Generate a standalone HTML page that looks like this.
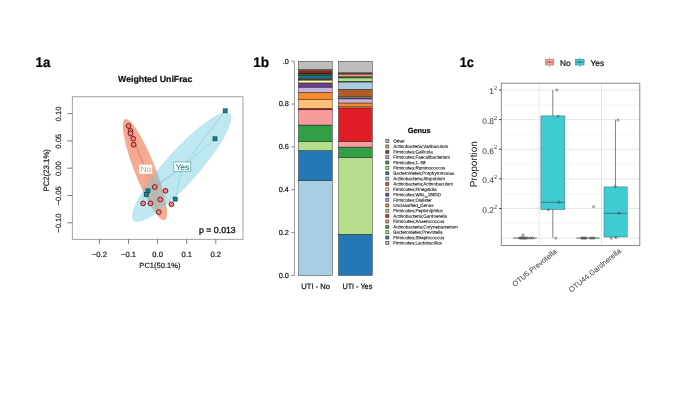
<!DOCTYPE html>
<html><head><meta charset="utf-8"><title>Figure 1</title>
<style>
html,body{margin:0;padding:0;background:#fff;}
body{width:685px;height:401px;overflow:hidden;}
svg{display:block;}
text{font-family:"Liberation Sans", sans-serif;text-rendering:geometricPrecision;}
</style></head><body>
<svg width="685" height="401" viewBox="0 0 685 401">
<rect x="0" y="0" width="685" height="401" fill="#ffffff"/>

<defs><filter id="soft" x="0" y="0" width="685" height="401" filterUnits="userSpaceOnUse" color-interpolation-filters="sRGB"><feGaussianBlur stdDeviation="0.55"/></filter></defs>
<g filter="url(#soft)">
<rect x="-5" y="-5" width="695" height="411" fill="#ffffff"/>
<text x="35.5" y="67.0" font-size="14" font-weight="bold" fill="#000" textLength="14.8" lengthAdjust="spacingAndGlyphs" stroke="#000" stroke-width="0.22">1a</text>
<text x="253.3" y="66.9" font-size="14" font-weight="bold" fill="#000" textLength="15.9" lengthAdjust="spacingAndGlyphs" stroke="#000" stroke-width="0.22">1b</text>
<text x="459.7" y="66.9" font-size="14" font-weight="bold" fill="#000" textLength="14.2" lengthAdjust="spacingAndGlyphs" stroke="#000" stroke-width="0.22">1c</text>
<g id="p1a">
<text x="155.2" y="82.4" font-size="8.75" font-weight="bold" fill="#111" text-anchor="middle" stroke="#111" stroke-width="0.22">Weighted UniFrac</text>
<clipPath id="c1a"><rect x="72.3" y="96.8" width="170.7" height="142.5"/></clipPath>
<g clip-path="url(#c1a)">
<ellipse cx="144.9" cy="169.6" rx="54.3" ry="10.4" transform="rotate(68.5 144.9 169.6)" fill="#f0855f" fill-opacity="0.69"/>
<ellipse cx="181.7" cy="167.1" rx="72.0" ry="16.6" transform="rotate(-48.2 181.7 167.1)" fill="#72cfe0" fill-opacity="0.47"/>
<line x1="145.7" y1="169.2" x2="128.5" y2="125.7" stroke="#d56a50" stroke-width="0.45" stroke-opacity="0.4"/>
<line x1="145.7" y1="169.2" x2="130.5" y2="130.7" stroke="#d56a50" stroke-width="0.45" stroke-opacity="0.4"/>
<line x1="145.7" y1="169.2" x2="130.5" y2="133.2" stroke="#d56a50" stroke-width="0.45" stroke-opacity="0.4"/>
<line x1="145.7" y1="169.2" x2="133.2" y2="138.4" stroke="#d56a50" stroke-width="0.45" stroke-opacity="0.4"/>
<line x1="145.7" y1="169.2" x2="133.6" y2="144.4" stroke="#d56a50" stroke-width="0.45" stroke-opacity="0.4"/>
<line x1="145.7" y1="169.2" x2="154.8" y2="186.7" stroke="#d56a50" stroke-width="0.45" stroke-opacity="0.4"/>
<line x1="145.7" y1="169.2" x2="165.5" y2="190.5" stroke="#d56a50" stroke-width="0.45" stroke-opacity="0.4"/>
<line x1="145.7" y1="169.2" x2="160.2" y2="199.2" stroke="#d56a50" stroke-width="0.45" stroke-opacity="0.4"/>
<line x1="145.7" y1="169.2" x2="143.1" y2="203.1" stroke="#d56a50" stroke-width="0.45" stroke-opacity="0.4"/>
<line x1="145.7" y1="169.2" x2="150.5" y2="203.1" stroke="#d56a50" stroke-width="0.45" stroke-opacity="0.4"/>
<line x1="145.7" y1="169.2" x2="171.4" y2="204.0" stroke="#d56a50" stroke-width="0.45" stroke-opacity="0.4"/>
<line x1="145.7" y1="169.2" x2="158.8" y2="211.8" stroke="#d56a50" stroke-width="0.45" stroke-opacity="0.4"/>
<line x1="182.3" y1="166.8" x2="225.2" y2="110.8" stroke="#45a8b2" stroke-width="0.45" stroke-opacity="0.6"/>
<line x1="182.3" y1="166.8" x2="215.0" y2="138.8" stroke="#45a8b2" stroke-width="0.45" stroke-opacity="0.6"/>
<line x1="182.3" y1="166.8" x2="147.9" y2="190.9" stroke="#45a8b2" stroke-width="0.45" stroke-opacity="0.6"/>
<line x1="182.3" y1="166.8" x2="146.3" y2="194.4" stroke="#45a8b2" stroke-width="0.45" stroke-opacity="0.6"/>
<line x1="182.3" y1="166.8" x2="175.2" y2="199.1" stroke="#45a8b2" stroke-width="0.45" stroke-opacity="0.6"/>
<circle cx="128.5" cy="126.0" r="2.4" fill="#f5827e" stroke="#6a1c1c" stroke-width="0.95"/>
<circle cx="130.5" cy="131.0" r="2.4" fill="#f5827e" stroke="#6a1c1c" stroke-width="0.95"/>
<circle cx="130.5" cy="133.5" r="2.4" fill="#f5827e" stroke="#6a1c1c" stroke-width="0.95"/>
<circle cx="133.2" cy="138.70000000000002" r="2.4" fill="#f5827e" stroke="#6a1c1c" stroke-width="0.95"/>
<circle cx="133.6" cy="144.70000000000002" r="2.4" fill="#f5827e" stroke="#6a1c1c" stroke-width="0.95"/>
<circle cx="154.8" cy="187.0" r="2.4" fill="#f5827e" stroke="#6a1c1c" stroke-width="0.95"/>
<circle cx="165.5" cy="190.8" r="2.4" fill="#f5827e" stroke="#6a1c1c" stroke-width="0.95"/>
<circle cx="160.2" cy="199.5" r="2.4" fill="#f5827e" stroke="#6a1c1c" stroke-width="0.95"/>
<circle cx="143.1" cy="203.4" r="2.4" fill="#f5827e" stroke="#6a1c1c" stroke-width="0.95"/>
<circle cx="150.5" cy="203.4" r="2.4" fill="#f5827e" stroke="#6a1c1c" stroke-width="0.95"/>
<circle cx="171.4" cy="204.3" r="2.4" fill="#f5827e" stroke="#6a1c1c" stroke-width="0.95"/>
<circle cx="158.8" cy="212.10000000000002" r="2.4" fill="#f5827e" stroke="#6a1c1c" stroke-width="0.95"/>
<rect x="223.2" y="108.8" width="4.0" height="4.0" fill="#1c7f8a" stroke="#0d4a52" stroke-width="0.7"/>
<rect x="213.0" y="136.8" width="4.0" height="4.0" fill="#1c7f8a" stroke="#0d4a52" stroke-width="0.7"/>
<rect x="145.9" y="188.9" width="4.0" height="4.0" fill="#1c7f8a" stroke="#0d4a52" stroke-width="0.7"/>
<rect x="144.3" y="192.4" width="4.0" height="4.0" fill="#1c7f8a" stroke="#0d4a52" stroke-width="0.7"/>
<rect x="173.2" y="197.1" width="4.0" height="4.0" fill="#1c7f8a" stroke="#0d4a52" stroke-width="0.7"/>
</g>
<rect x="139.0" y="164.4" width="13.4" height="9.6" fill="#fff" stroke="#f0b0a2" stroke-width="0.6"/>
<text x="145.9" y="172.2" font-size="8.4" fill="#e88e82" stroke="none" text-anchor="middle">No</text>
<rect x="173.8" y="162.0" width="17.0" height="9.6" fill="#fff" stroke="#4a9fa9" stroke-width="0.65"/>
<text x="182.4" y="169.9" font-size="8.5" fill="#22838e" stroke="#22838e" stroke-width="0.12" text-anchor="middle">Yes</text>
<text x="199.1" y="233.2" font-size="8.7" fill="#151515" stroke="#151515" stroke-width="0.36" textLength="36.6" lengthAdjust="spacingAndGlyphs">p = 0.013</text>
<rect x="72.3" y="96.8" width="170.7" height="142.5" fill="none" stroke="#8a8a8a" stroke-width="0.8"/>
<line x1="99.40" y1="239.3" x2="99.40" y2="243.9" stroke="#444" stroke-width="0.7"/>
<text x="99.40" y="256.6" font-size="7.6" fill="#1a1a1a" stroke="#1a1a1a" stroke-width="0.2" text-anchor="middle">−0.2</text>
<line x1="128.50" y1="239.3" x2="128.50" y2="243.9" stroke="#444" stroke-width="0.7"/>
<text x="128.50" y="256.6" font-size="7.6" fill="#1a1a1a" stroke="#1a1a1a" stroke-width="0.2" text-anchor="middle">−0.1</text>
<line x1="157.60" y1="239.3" x2="157.60" y2="243.9" stroke="#444" stroke-width="0.7"/>
<text x="157.60" y="256.6" font-size="7.6" fill="#1a1a1a" stroke="#1a1a1a" stroke-width="0.2" text-anchor="middle">0.0</text>
<line x1="186.70" y1="239.3" x2="186.70" y2="243.9" stroke="#444" stroke-width="0.7"/>
<text x="186.70" y="256.6" font-size="7.6" fill="#1a1a1a" stroke="#1a1a1a" stroke-width="0.2" text-anchor="middle">0.1</text>
<line x1="215.80" y1="239.3" x2="215.80" y2="243.9" stroke="#444" stroke-width="0.7"/>
<text x="215.80" y="256.6" font-size="7.6" fill="#1a1a1a" stroke="#1a1a1a" stroke-width="0.2" text-anchor="middle">0.2</text>
<text x="159.9" y="268.4" font-size="7.55" fill="#1a1a1a" stroke="#1a1a1a" stroke-width="0.2" text-anchor="middle">PC1(50.1%)</text>
<line x1="67.3" y1="113.60" x2="72.3" y2="113.60" stroke="#444" stroke-width="0.7"/>
<text transform="translate(60.9 114.00) rotate(-90)" font-size="7.6" fill="#1a1a1a" stroke="#1a1a1a" stroke-width="0.2" text-anchor="middle">0.10</text>
<line x1="67.3" y1="140.90" x2="72.3" y2="140.90" stroke="#444" stroke-width="0.7"/>
<text transform="translate(60.9 141.30) rotate(-90)" font-size="7.6" fill="#1a1a1a" stroke="#1a1a1a" stroke-width="0.2" text-anchor="middle">0.05</text>
<line x1="67.3" y1="168.20" x2="72.3" y2="168.20" stroke="#444" stroke-width="0.7"/>
<text transform="translate(60.9 168.60) rotate(-90)" font-size="7.6" fill="#1a1a1a" stroke="#1a1a1a" stroke-width="0.2" text-anchor="middle">0.00</text>
<line x1="67.3" y1="195.50" x2="72.3" y2="195.50" stroke="#444" stroke-width="0.7"/>
<text transform="translate(60.9 195.90) rotate(-90)" font-size="7.6" fill="#1a1a1a" stroke="#1a1a1a" stroke-width="0.2" text-anchor="middle">−0.05</text>
<line x1="67.3" y1="222.80" x2="72.3" y2="222.80" stroke="#444" stroke-width="0.7"/>
<text transform="translate(60.9 223.20) rotate(-90)" font-size="7.6" fill="#1a1a1a" stroke="#1a1a1a" stroke-width="0.2" text-anchor="middle">−0.10</text>
<text transform="translate(48.9 170.3) rotate(-90)" font-size="7.8" fill="#1a1a1a" stroke="#1a1a1a" stroke-width="0.2" text-anchor="middle">PC2(23.1%)</text>
</g>
<g id="p1b">
<rect x="298.5" y="180.30" width="33.80000000000001" height="95.10" fill="#a8cee3" stroke="#111" stroke-width="0.42"/>
<rect x="298.5" y="150.52" width="33.80000000000001" height="29.77" fill="#2478b5" stroke="#111" stroke-width="0.42"/>
<rect x="298.5" y="141.74" width="33.80000000000001" height="8.78" fill="#b5dd8c" stroke="#111" stroke-width="0.42"/>
<rect x="298.5" y="125.03" width="33.80000000000001" height="16.71" fill="#309f47" stroke="#111" stroke-width="0.42"/>
<rect x="298.5" y="109.82" width="33.80000000000001" height="15.21" fill="#f79c9b" stroke="#111" stroke-width="0.42"/>
<rect x="298.5" y="108.32" width="33.80000000000001" height="1.50" fill="#e01c26" stroke="#111" stroke-width="0.42"/>
<rect x="298.5" y="99.76" width="33.80000000000001" height="8.57" fill="#fcc077" stroke="#111" stroke-width="0.42"/>
<rect x="298.5" y="92.37" width="33.80000000000001" height="7.39" fill="#f58a2c" stroke="#111" stroke-width="0.42"/>
<rect x="298.5" y="87.12" width="33.80000000000001" height="5.25" fill="#cab2d6" stroke="#111" stroke-width="0.42"/>
<rect x="298.5" y="82.94" width="33.80000000000001" height="4.18" fill="#6a3f9b" stroke="#111" stroke-width="0.42"/>
<rect x="298.5" y="80.05" width="33.80000000000001" height="2.89" fill="#fbf79a" stroke="#111" stroke-width="0.42"/>
<rect x="298.5" y="79.19" width="33.80000000000001" height="0.86" fill="#b15a2a" stroke="#111" stroke-width="0.42"/>
<rect x="298.5" y="78.34" width="33.80000000000001" height="0.86" fill="#a8cee3" stroke="#111" stroke-width="0.42"/>
<rect x="298.5" y="75.77" width="33.80000000000001" height="2.57" fill="#1d6f94" stroke="#111" stroke-width="0.42"/>
<rect x="298.5" y="75.44" width="33.80000000000001" height="0.32" fill="#b5dd8c" stroke="#111" stroke-width="0.42"/>
<rect x="298.5" y="73.84" width="33.80000000000001" height="1.61" fill="#1d7a3a" stroke="#111" stroke-width="0.42"/>
<rect x="298.5" y="73.41" width="33.80000000000001" height="0.43" fill="#f79c9b" stroke="#111" stroke-width="0.42"/>
<rect x="298.5" y="70.52" width="33.80000000000001" height="2.89" fill="#96201e" stroke="#111" stroke-width="0.42"/>
<rect x="298.5" y="69.34" width="33.80000000000001" height="1.18" fill="#d9a86a" stroke="#111" stroke-width="0.42"/>
<rect x="298.5" y="61.20" width="33.80000000000001" height="8.14" fill="#bdbdbd" stroke="#111" stroke-width="0.42"/>
<rect x="338.5" y="234.27" width="33.80000000000001" height="41.13" fill="#2478b5" stroke="#111" stroke-width="0.42"/>
<rect x="338.5" y="157.38" width="33.80000000000001" height="76.90" fill="#b5dd8c" stroke="#111" stroke-width="0.42"/>
<rect x="338.5" y="147.09" width="33.80000000000001" height="10.28" fill="#309f47" stroke="#111" stroke-width="0.42"/>
<rect x="338.5" y="141.52" width="33.80000000000001" height="5.57" fill="#f79c9b" stroke="#111" stroke-width="0.42"/>
<rect x="338.5" y="107.90" width="33.80000000000001" height="33.63" fill="#e01c26" stroke="#111" stroke-width="0.42"/>
<rect x="338.5" y="106.82" width="33.80000000000001" height="1.07" fill="#fcc077" stroke="#111" stroke-width="0.42"/>
<rect x="338.5" y="102.97" width="33.80000000000001" height="3.86" fill="#f58a2c" stroke="#111" stroke-width="0.42"/>
<rect x="338.5" y="98.90" width="33.80000000000001" height="4.07" fill="#cab2d6" stroke="#111" stroke-width="0.42"/>
<rect x="338.5" y="97.61" width="33.80000000000001" height="1.29" fill="#6a3f9b" stroke="#111" stroke-width="0.42"/>
<rect x="338.5" y="96.33" width="33.80000000000001" height="1.29" fill="#fbf79a" stroke="#111" stroke-width="0.42"/>
<rect x="338.5" y="89.26" width="33.80000000000001" height="7.07" fill="#b15a2a" stroke="#111" stroke-width="0.42"/>
<rect x="338.5" y="81.98" width="33.80000000000001" height="7.28" fill="#a8cee3" stroke="#111" stroke-width="0.42"/>
<rect x="338.5" y="81.33" width="33.80000000000001" height="0.64" fill="#1d6f94" stroke="#111" stroke-width="0.42"/>
<rect x="338.5" y="77.91" width="33.80000000000001" height="3.43" fill="#b5dd8c" stroke="#111" stroke-width="0.42"/>
<rect x="338.5" y="76.62" width="33.80000000000001" height="1.29" fill="#1d7a3a" stroke="#111" stroke-width="0.42"/>
<rect x="338.5" y="74.05" width="33.80000000000001" height="2.57" fill="#f79c9b" stroke="#111" stroke-width="0.42"/>
<rect x="338.5" y="73.41" width="33.80000000000001" height="0.64" fill="#96201e" stroke="#111" stroke-width="0.42"/>
<rect x="338.5" y="72.77" width="33.80000000000001" height="0.64" fill="#d9a86a" stroke="#111" stroke-width="0.42"/>
<rect x="338.5" y="61.20" width="33.80000000000001" height="11.57" fill="#bdbdbd" stroke="#111" stroke-width="0.42"/>
<line x1="294.4" y1="275.4" x2="294.4" y2="61.19999999999999" stroke="#707070" stroke-width="0.7"/>
<line x1="291.2" y1="275.40" x2="294.4" y2="275.40" stroke="#606060" stroke-width="0.7"/>
<text x="288.9" y="277.80" font-size="7.3" fill="#222" text-anchor="end" stroke="#222" stroke-width="0.22">0.0</text>
<line x1="291.2" y1="232.56" x2="294.4" y2="232.56" stroke="#606060" stroke-width="0.7"/>
<text x="288.9" y="234.96" font-size="7.3" fill="#222" text-anchor="end" stroke="#222" stroke-width="0.22">0.2</text>
<line x1="291.2" y1="189.72" x2="294.4" y2="189.72" stroke="#606060" stroke-width="0.7"/>
<text x="288.9" y="192.12" font-size="7.3" fill="#222" text-anchor="end" stroke="#222" stroke-width="0.22">0.4</text>
<line x1="291.2" y1="146.88" x2="294.4" y2="146.88" stroke="#606060" stroke-width="0.7"/>
<text x="288.9" y="149.28" font-size="7.3" fill="#222" text-anchor="end" stroke="#222" stroke-width="0.22">0.6</text>
<line x1="291.2" y1="104.04" x2="294.4" y2="104.04" stroke="#606060" stroke-width="0.7"/>
<text x="288.9" y="106.44" font-size="7.3" fill="#222" text-anchor="end" stroke="#222" stroke-width="0.22">0.8</text>
<line x1="291.2" y1="61.20" x2="294.4" y2="61.20" stroke="#606060" stroke-width="0.7"/>
<text x="288.9" y="63.60" font-size="7.3" fill="#222" text-anchor="end" stroke="#222" stroke-width="0.22">.0</text>
<text x="301.3" y="288.5" font-size="7.8" fill="#111" textLength="28.7" lengthAdjust="spacingAndGlyphs" stroke="#111" stroke-width="0.22">UTI - No</text>
<text x="342.4" y="288.5" font-size="7.8" fill="#111" textLength="29.9" lengthAdjust="spacingAndGlyphs" stroke="#111" stroke-width="0.22">UTI - Yes</text>
<text x="419.2" y="133.3" font-size="7.4" font-weight="bold" fill="#111" text-anchor="middle" stroke="#111" stroke-width="0.22">Genus</text>
<rect x="385.8" y="139.60" width="3.0" height="3.0" fill="#bdbdbd" stroke="#505050" stroke-width="0.75"/>
<text transform="translate(393.2 142.70) rotate(0.03)" font-size="4.55" fill="#111" stroke="#111" stroke-width="0.1">Other</text>
<rect x="385.8" y="144.96" width="3.0" height="3.0" fill="#d9a86a" stroke="#505050" stroke-width="0.75"/>
<text transform="translate(393.2 148.06) rotate(0.03)" font-size="4.55" fill="#111" stroke="#111" stroke-width="0.1">Actinobacteria;Varibaculum</text>
<rect x="385.8" y="150.32" width="3.0" height="3.0" fill="#a31a28" stroke="#505050" stroke-width="0.75"/>
<text transform="translate(393.2 153.42) rotate(0.03)" font-size="4.55" fill="#111" stroke="#111" stroke-width="0.1">Firmicutes;Gallicola</text>
<rect x="385.8" y="155.67" width="3.0" height="3.0" fill="#f79c9b" stroke="#505050" stroke-width="0.75"/>
<text transform="translate(393.2 158.77) rotate(0.03)" font-size="4.55" fill="#111" stroke="#111" stroke-width="0.1">Firmicutes;Faecalibacterium</text>
<rect x="385.8" y="161.03" width="3.0" height="3.0" fill="#2a9035" stroke="#505050" stroke-width="0.75"/>
<text transform="translate(393.2 164.13) rotate(0.03)" font-size="4.55" fill="#111" stroke="#111" stroke-width="0.1">Firmicutes;1–68</text>
<rect x="385.8" y="166.39" width="3.0" height="3.0" fill="#b5dd8c" stroke="#505050" stroke-width="0.75"/>
<text transform="translate(393.2 169.49) rotate(0.03)" font-size="4.55" fill="#111" stroke="#111" stroke-width="0.1">Firmicutes;Ruminococcus</text>
<rect x="385.8" y="171.75" width="3.0" height="3.0" fill="#1f72ae" stroke="#505050" stroke-width="0.75"/>
<text transform="translate(393.2 174.85) rotate(0.03)" font-size="4.55" fill="#111" stroke="#111" stroke-width="0.1">Bacteroidetes;Porphyromonas</text>
<rect x="385.8" y="177.11" width="3.0" height="3.0" fill="#a8cee3" stroke="#505050" stroke-width="0.75"/>
<text transform="translate(393.2 180.21) rotate(0.03)" font-size="4.55" fill="#111" stroke="#111" stroke-width="0.1">Actinobacteria;Atopobium</text>
<rect x="385.8" y="182.46" width="3.0" height="3.0" fill="#b15a2a" stroke="#505050" stroke-width="0.75"/>
<text transform="translate(393.2 185.56) rotate(0.03)" font-size="4.55" fill="#111" stroke="#111" stroke-width="0.1">Actinobacteria;Actinobaculum</text>
<rect x="385.8" y="187.82" width="3.0" height="3.0" fill="#fbf79a" stroke="#505050" stroke-width="0.75"/>
<text transform="translate(393.2 190.92) rotate(0.03)" font-size="4.55" fill="#111" stroke="#111" stroke-width="0.1">Firmicutes;Finegoldia</text>
<rect x="385.8" y="193.18" width="3.0" height="3.0" fill="#6a3f9b" stroke="#505050" stroke-width="0.75"/>
<text transform="translate(393.2 196.28) rotate(0.03)" font-size="4.55" fill="#111" stroke="#111" stroke-width="0.1">Firmicutes;WAL_1855D</text>
<rect x="385.8" y="198.54" width="3.0" height="3.0" fill="#cab2d6" stroke="#505050" stroke-width="0.75"/>
<text transform="translate(393.2 201.64) rotate(0.03)" font-size="4.55" fill="#111" stroke="#111" stroke-width="0.1">Firmicutes;Dialister</text>
<rect x="385.8" y="203.90" width="3.0" height="3.0" fill="#f58a2c" stroke="#505050" stroke-width="0.75"/>
<text transform="translate(393.2 207.00) rotate(0.03)" font-size="4.55" fill="#111" stroke="#111" stroke-width="0.1">Unclassified_Genus</text>
<rect x="385.8" y="209.25" width="3.0" height="3.0" fill="#fcc077" stroke="#505050" stroke-width="0.75"/>
<text transform="translate(393.2 212.35) rotate(0.03)" font-size="4.55" fill="#111" stroke="#111" stroke-width="0.1">Firmicutes;Peptoniphilus</text>
<rect x="385.8" y="214.61" width="3.0" height="3.0" fill="#e01c26" stroke="#505050" stroke-width="0.75"/>
<text transform="translate(393.2 217.71) rotate(0.03)" font-size="4.55" fill="#111" stroke="#111" stroke-width="0.1">Actinobacteria;Gardnerella</text>
<rect x="385.8" y="219.97" width="3.0" height="3.0" fill="#f79c9b" stroke="#505050" stroke-width="0.75"/>
<text transform="translate(393.2 223.07) rotate(0.03)" font-size="4.55" fill="#111" stroke="#111" stroke-width="0.1">Firmicutes;Anaerococcus</text>
<rect x="385.8" y="225.33" width="3.0" height="3.0" fill="#309f47" stroke="#505050" stroke-width="0.75"/>
<text transform="translate(393.2 228.43) rotate(0.03)" font-size="4.55" fill="#111" stroke="#111" stroke-width="0.1">Actinobacteria;Corynebacterium</text>
<rect x="385.8" y="230.69" width="3.0" height="3.0" fill="#b5dd8c" stroke="#505050" stroke-width="0.75"/>
<text transform="translate(393.2 233.79) rotate(0.03)" font-size="4.55" fill="#111" stroke="#111" stroke-width="0.1">Bacteroidetes;Prevotella</text>
<rect x="385.8" y="236.04" width="3.0" height="3.0" fill="#2478b5" stroke="#505050" stroke-width="0.75"/>
<text transform="translate(393.2 239.14) rotate(0.03)" font-size="4.55" fill="#111" stroke="#111" stroke-width="0.1">Firmicutes;Streptococcus</text>
<rect x="385.8" y="241.40" width="3.0" height="3.0" fill="#a8cee3" stroke="#505050" stroke-width="0.75"/>
<text transform="translate(393.2 244.50) rotate(0.03)" font-size="4.55" fill="#111" stroke="#111" stroke-width="0.1">Firmicutes;Lactobacillus</text>
</g>
<g id="p1c">
<rect x="501.3" y="83.2" width="138.49999999999994" height="162.39999999999998" fill="#fff"/>
<line x1="501.3" y1="223.29" x2="639.8" y2="223.29" stroke="#ededed" stroke-width="0.5"/>
<line x1="501.3" y1="193.67" x2="639.8" y2="193.67" stroke="#ededed" stroke-width="0.5"/>
<line x1="501.3" y1="164.05" x2="639.8" y2="164.05" stroke="#ededed" stroke-width="0.5"/>
<line x1="501.3" y1="134.43" x2="639.8" y2="134.43" stroke="#ededed" stroke-width="0.5"/>
<line x1="501.3" y1="104.81" x2="639.8" y2="104.81" stroke="#ededed" stroke-width="0.5"/>
<line x1="501.3" y1="238.10" x2="639.8" y2="238.10" stroke="#e0e0e0" stroke-width="0.8"/>
<line x1="501.3" y1="208.48" x2="639.8" y2="208.48" stroke="#e0e0e0" stroke-width="0.8"/>
<line x1="501.3" y1="178.86" x2="639.8" y2="178.86" stroke="#e0e0e0" stroke-width="0.8"/>
<line x1="501.3" y1="149.24" x2="639.8" y2="149.24" stroke="#e0e0e0" stroke-width="0.8"/>
<line x1="501.3" y1="119.62" x2="639.8" y2="119.62" stroke="#e0e0e0" stroke-width="0.8"/>
<line x1="501.3" y1="90.00" x2="639.8" y2="90.00" stroke="#e0e0e0" stroke-width="0.8"/>
<line x1="539.2" y1="83.2" x2="539.2" y2="245.6" stroke="#e0e0e0" stroke-width="0.8"/>
<line x1="601.5" y1="83.2" x2="601.5" y2="245.6" stroke="#e0e0e0" stroke-width="0.8"/>
<line x1="552.8" y1="90.0" x2="552.8" y2="237.7" stroke="#4a4a4a" stroke-width="0.7"/>
<rect x="540.9" y="115.9" width="24.0" height="93.69999999999999" fill="#3ecbd2" stroke="#4a6a6c" stroke-width="0.5"/>
<line x1="540.9" y1="202.3" x2="564.9" y2="202.3" stroke="#3a5a5c" stroke-width="0.7"/>
<line x1="615.4" y1="119.7" x2="615.4" y2="238.1" stroke="#4a4a4a" stroke-width="0.7"/>
<rect x="604.0" y="186.9" width="23.2" height="50.099999999999994" fill="#3ecbd2" stroke="#4a6a6c" stroke-width="0.5"/>
<line x1="604.0" y1="213.3" x2="627.2" y2="213.3" stroke="#3a5a5c" stroke-width="0.7"/>
<line x1="513.3" y1="238.1" x2="536.7" y2="238.1" stroke="#444" stroke-width="0.8"/>
<line x1="576.5" y1="238.1" x2="599.6" y2="238.1" stroke="#444" stroke-width="0.8"/>
<circle cx="556.9" cy="90.0" r="1.15" fill="#666" fill-opacity="0.35" stroke="#444" stroke-width="0.4"/>
<circle cx="558.2" cy="116.3" r="1.15" fill="#666" fill-opacity="0.35" stroke="#444" stroke-width="0.4"/>
<circle cx="558.8" cy="202.0" r="1.15" fill="#666" fill-opacity="0.35" stroke="#444" stroke-width="0.4"/>
<circle cx="548.3" cy="209.8" r="1.15" fill="#666" fill-opacity="0.35" stroke="#444" stroke-width="0.4"/>
<circle cx="555.8" cy="238.2" r="1.15" fill="#666" fill-opacity="0.35" stroke="#444" stroke-width="0.4"/>
<circle cx="617.9" cy="120.2" r="1.15" fill="#666" fill-opacity="0.35" stroke="#444" stroke-width="0.4"/>
<circle cx="615.3" cy="186.6" r="1.15" fill="#666" fill-opacity="0.35" stroke="#444" stroke-width="0.4"/>
<circle cx="619.0" cy="213.2" r="1.15" fill="#666" fill-opacity="0.35" stroke="#444" stroke-width="0.4"/>
<circle cx="611.2" cy="238.2" r="1.15" fill="#666" fill-opacity="0.35" stroke="#444" stroke-width="0.4"/>
<circle cx="616.0" cy="237.4" r="1.15" fill="#666" fill-opacity="0.35" stroke="#444" stroke-width="0.4"/>
<circle cx="519.6" cy="238.1" r="1.15" fill="#666" fill-opacity="0.35" stroke="#444" stroke-width="0.4"/>
<circle cx="520.6" cy="237.9" r="1.15" fill="#666" fill-opacity="0.35" stroke="#444" stroke-width="0.4"/>
<circle cx="521.5" cy="238.2" r="1.15" fill="#666" fill-opacity="0.35" stroke="#444" stroke-width="0.4"/>
<circle cx="522.3" cy="237.7" r="1.15" fill="#666" fill-opacity="0.35" stroke="#444" stroke-width="0.4"/>
<circle cx="523.0" cy="234.9" r="1.15" fill="#666" fill-opacity="0.35" stroke="#444" stroke-width="0.4"/>
<circle cx="523.3" cy="238.1" r="1.15" fill="#666" fill-opacity="0.35" stroke="#444" stroke-width="0.4"/>
<circle cx="524.2" cy="238.0" r="1.15" fill="#666" fill-opacity="0.35" stroke="#444" stroke-width="0.4"/>
<circle cx="525.1" cy="238.2" r="1.15" fill="#666" fill-opacity="0.35" stroke="#444" stroke-width="0.4"/>
<circle cx="526.0" cy="238.0" r="1.15" fill="#666" fill-opacity="0.35" stroke="#444" stroke-width="0.4"/>
<circle cx="527.9" cy="238.1" r="1.15" fill="#666" fill-opacity="0.35" stroke="#444" stroke-width="0.4"/>
<circle cx="530.5" cy="238.1" r="1.15" fill="#666" fill-opacity="0.35" stroke="#444" stroke-width="0.4"/>
<circle cx="532.6" cy="238.1" r="1.15" fill="#666" fill-opacity="0.35" stroke="#444" stroke-width="0.4"/>
<circle cx="581.5" cy="238.1" r="1.15" fill="#666" fill-opacity="0.35" stroke="#444" stroke-width="0.4"/>
<circle cx="582.4" cy="238.1" r="1.15" fill="#666" fill-opacity="0.35" stroke="#444" stroke-width="0.4"/>
<circle cx="583.3" cy="238.1" r="1.15" fill="#666" fill-opacity="0.35" stroke="#444" stroke-width="0.4"/>
<circle cx="584.2" cy="238.1" r="1.15" fill="#666" fill-opacity="0.35" stroke="#444" stroke-width="0.4"/>
<circle cx="585.2" cy="238.1" r="1.15" fill="#666" fill-opacity="0.35" stroke="#444" stroke-width="0.4"/>
<circle cx="586.1" cy="238.1" r="1.15" fill="#666" fill-opacity="0.35" stroke="#444" stroke-width="0.4"/>
<circle cx="590.3" cy="238.1" r="1.15" fill="#666" fill-opacity="0.35" stroke="#444" stroke-width="0.4"/>
<circle cx="591.5" cy="238.1" r="1.15" fill="#666" fill-opacity="0.35" stroke="#444" stroke-width="0.4"/>
<circle cx="592.8" cy="238.1" r="1.15" fill="#666" fill-opacity="0.35" stroke="#444" stroke-width="0.4"/>
<circle cx="594.3" cy="238.1" r="1.15" fill="#666" fill-opacity="0.35" stroke="#444" stroke-width="0.4"/>
<circle cx="593.6" cy="206.8" r="1.15" fill="#666" fill-opacity="0.35" stroke="#444" stroke-width="0.4"/>
<rect x="501.3" y="83.2" width="138.49999999999994" height="162.39999999999998" fill="none" stroke="#7c7c7c" stroke-width="0.9"/>
<text x="493.9" y="94.30" font-size="8.3" fill="#4a4a4a" stroke="#4a4a4a" stroke-width="0.1" text-anchor="end">1</text>
<text x="494.0" y="90.10" font-size="5.9" fill="#505050" stroke="none">2</text>
<line x1="499.0" y1="90.00" x2="501.3" y2="90.00" stroke="#333" stroke-width="0.9"/>
<text x="493.9" y="123.92" font-size="8.3" fill="#4a4a4a" stroke="#4a4a4a" stroke-width="0.1" text-anchor="end">0.8</text>
<text x="494.0" y="119.72" font-size="5.9" fill="#505050" stroke="none">2</text>
<line x1="499.0" y1="119.62" x2="501.3" y2="119.62" stroke="#333" stroke-width="0.9"/>
<text x="493.9" y="153.54" font-size="8.3" fill="#4a4a4a" stroke="#4a4a4a" stroke-width="0.1" text-anchor="end">0.6</text>
<text x="494.0" y="149.34" font-size="5.9" fill="#505050" stroke="none">2</text>
<line x1="499.0" y1="149.24" x2="501.3" y2="149.24" stroke="#333" stroke-width="0.9"/>
<text x="493.9" y="183.16" font-size="8.3" fill="#4a4a4a" stroke="#4a4a4a" stroke-width="0.1" text-anchor="end">0.4</text>
<text x="494.0" y="178.96" font-size="5.9" fill="#505050" stroke="none">2</text>
<line x1="499.0" y1="178.86" x2="501.3" y2="178.86" stroke="#333" stroke-width="0.9"/>
<text x="493.9" y="212.78" font-size="8.3" fill="#4a4a4a" stroke="#4a4a4a" stroke-width="0.1" text-anchor="end">0.2</text>
<text x="494.0" y="208.58" font-size="5.9" fill="#505050" stroke="none">2</text>
<line x1="499.0" y1="208.48" x2="501.3" y2="208.48" stroke="#333" stroke-width="0.9"/>
<text transform="translate(477.4 164.3) rotate(-90)" font-size="10" fill="#1a1a1a" stroke="none" text-anchor="middle">Proportion</text>
<text transform="translate(557.4 252.4) rotate(-39)" font-size="7.45" fill="#505050" stroke="#505050" stroke-width="0.08" text-anchor="end">OTU5.Prevotella</text>
<text transform="translate(621.6 251.9) rotate(-39)" font-size="7.45" fill="#505050" stroke="#505050" stroke-width="0.08" text-anchor="end">OTU44.Gardnerella</text>
<line x1="549.6" y1="57.6" x2="549.6" y2="66.7" stroke="#946360" stroke-width="0.6"/>
<rect x="545.3000000000001" y="59.2" width="8.6" height="5.9" fill="#f4a29c" stroke="#946360" stroke-width="0.45"/>
<line x1="545.3000000000001" y1="62.1" x2="553.9" y2="62.1" stroke="#946360" stroke-width="0.7"/>
<circle cx="549.6" cy="62.1" r="0.9" fill="#946360"/>
<text x="560.0" y="65.9" font-size="8.3" fill="#111" stroke="#111" stroke-width="0.22">No</text>
<line x1="579.8" y1="57.6" x2="579.8" y2="66.7" stroke="#2f6a6e" stroke-width="0.6"/>
<rect x="575.5" y="59.2" width="8.6" height="5.9" fill="#3ecbd2" stroke="#2f6a6e" stroke-width="0.45"/>
<line x1="575.5" y1="62.1" x2="584.0999999999999" y2="62.1" stroke="#2f6a6e" stroke-width="0.7"/>
<circle cx="579.8" cy="62.1" r="0.9" fill="#2f6a6e"/>
<text x="590.6" y="65.9" font-size="8.3" fill="#111" stroke="#111" stroke-width="0.22">Yes</text>
</g>
</g>
</svg>
</body></html>
